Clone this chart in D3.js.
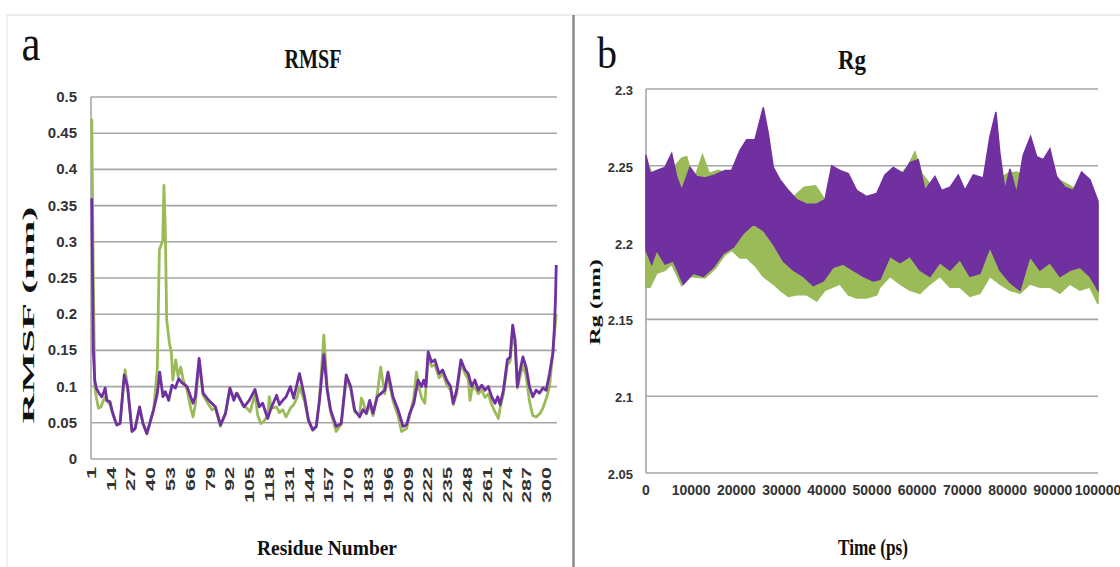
<!DOCTYPE html>
<html>
<head>
<meta charset="utf-8">
<script src="https://cdn.jsdelivr.net/npm/d3@7"></script>
<style>
  html, body { margin: 0; padding: 0; background: #fff; }
  svg { display: block; }
</style>
</head>
<body>
<svg id="chart" width="1120" height="567"></svg>
<script>
// ---- data ----
// RMSF per residue: [residue, nm]
const rmsfGreen = [
  [1,0.47],[2,0.25],[3,0.10],[4,0.085],[5.4,0.07],[7,0.072],[8.5,0.08],[9.8,0.086],[11,0.08],[13,0.075],
  [14.2,0.066],[17.5,0.047],[19.6,0.05],[22.9,0.123],[24.5,0.10],[27.4,0.04],[29.5,0.043],[32.4,0.07],
  [34.6,0.05],[37.2,0.036],[41.6,0.068],[44,0.123],[45.4,0.289],[47.6,0.302],[48.4,0.378],[49.3,0.316],
  [50.2,0.192],[52,0.16],[53.3,0.146],[54.2,0.109],[56.1,0.137],[57.7,0.114],[59.4,0.127],[61,0.11],
  [63.6,0.095],[66,0.07],[67.5,0.058],[69,0.075],[71.5,0.135],[74.1,0.088],[77.8,0.075],[80,0.068],
  [82.2,0.07],[85.5,0.045],[88.8,0.063],[91.7,0.096],[94.3,0.085],[97,0.09],[100,0.075],[103,0.07],
  [105,0.065],[108.2,0.09],[110,0.06],[112,0.049],[114,0.052],[116.5,0.06],[117.6,0.086],[119,0.07],
  [122.4,0.072],[124.2,0.064],[126.4,0.068],[128.6,0.058],[131.4,0.07],[133.6,0.075],[136,0.086],
  [137.4,0.1],[140.7,0.08],[143.3,0.052],[146.1,0.04],[148.4,0.045],[150.5,0.08],[153.4,0.171],
  [155.6,0.1],[157.8,0.065],[161.5,0.038],[164.8,0.048],[168.1,0.112],[171,0.098],[173.6,0.065],
  [176.9,0.06],[178,0.084],[179.1,0.08],[181.3,0.062],[183.5,0.075],[185.7,0.06],[188.5,0.09],
  [190.7,0.127],[193.4,0.09],[195.5,0.115],[198.8,0.08],[202.1,0.06],[204.4,0.038],[207.7,0.042],
  [209.8,0.06],[212.5,0.085],[214.2,0.12],[216,0.098],[217.5,0.085],[219.7,0.077],[221.9,0.14],
  [224.1,0.128],[226.3,0.13],[229.1,0.112],[231.4,0.118],[234,0.103],[236.6,0.095],[238.4,0.075],
  [240.6,0.09],[243.4,0.132],[246.1,0.118],[248.2,0.11],[249.4,0.081],[250.5,0.095],[252.6,0.1],
  [254.8,0.09],[257.1,0.095],[259.2,0.085],[261.4,0.09],[263.6,0.075],[265.8,0.065],[268,0.056],
  [269.1,0.07],[271.3,0.09],[273.9,0.13],[275.7,0.135],[277.4,0.175],[279,0.155],[280.5,0.098],
  [281.8,0.11],[284.1,0.13],[286.2,0.115],[288.4,0.08],[290.6,0.06],[292.8,0.058],[295.4,0.063],
  [297.2,0.07],[299.8,0.086],[301.6,0.1],[303.4,0.14],[304.7,0.17],[306,0.2]
];
const rmsfPurple = [
  [1,0.36],[2,0.15],[3,0.108],[4,0.098],[6,0.09],[7.6,0.086],[9,0.093],[9.8,0.098],[10.9,0.081],
  [13,0.079],[14.2,0.068],[16,0.055],[17.5,0.047],[19.6,0.049],[22.3,0.116],[24.5,0.10],[27.4,0.038],
  [29.5,0.042],[32.4,0.072],[34.6,0.049],[37.2,0.035],[41.6,0.068],[44,0.09],[45.6,0.12],[47.8,0.086],
  [49.3,0.093],[51.5,0.081],[53.7,0.102],[55.9,0.098],[58.1,0.111],[60.3,0.105],[63.6,0.10],
  [67.5,0.077],[69,0.086],[71.5,0.139],[74.1,0.091],[77.8,0.081],[82.2,0.072],[85.5,0.047],
  [88.8,0.063],[91.7,0.098],[94.3,0.081],[96.1,0.091],[99.8,0.077],[101,0.072],[104.4,0.081],
  [108.2,0.096],[111,0.072],[113.2,0.077],[116.5,0.056],[118.7,0.070],[122.4,0.088],[124.2,0.075],
  [126.4,0.081],[128.6,0.086],[131.4,0.10],[133.6,0.084],[137.4,0.118],[140.7,0.086],[143.3,0.054],
  [146.1,0.040],[148.4,0.045],[150.5,0.081],[153.4,0.144],[155.6,0.095],[157.8,0.068],[161.5,0.045],
  [164.8,0.049],[168.1,0.116],[171,0.10],[173.6,0.068],[176.9,0.058],[179.1,0.068],[181.3,0.063],
  [183.5,0.081],[185.7,0.063],[188.5,0.086],[191.2,0.091],[193.4,0.095],[195.5,0.12],[198.8,0.086],
  [202.1,0.068],[205.4,0.045],[207.7,0.047],[209.8,0.063],[212.5,0.077],[215.3,0.109],[217.5,0.10],
  [219,0.109],[220.4,0.10],[221.9,0.148],[224.1,0.134],[226.3,0.137],[229.1,0.118],[231.4,0.123],
  [234,0.109],[236.6,0.10],[238.4,0.077],[240.6,0.095],[243.4,0.137],[246.1,0.123],[248.2,0.118],
  [250.5,0.10],[252.6,0.109],[254.8,0.095],[257.1,0.102],[259.2,0.095],[261.4,0.10],[263.6,0.086],
  [265.8,0.077],[267.6,0.086],[269.1,0.075],[271.3,0.095],[273.9,0.137],[275.7,0.141],[277.4,0.185],
  [279,0.164],[280.5,0.10],[281.8,0.118],[284.1,0.141],[286.2,0.127],[288.4,0.10],[290.6,0.086],
  [292.8,0.095],[295,0.091],[297.2,0.098],[299.4,0.095],[301.6,0.118],[303.8,0.146],[304.7,0.178],
  [305.5,0.22],[306,0.268]
];
const rmsfTicksY = [0,0.05,0.1,0.15,0.2,0.25,0.3,0.35,0.4,0.45,0.5];
const residueTicks = [1,14,27,40,53,66,79,92,105,118,131,144,157,170,183,196,209,222,235,248,261,274,287,300];

// Rg envelopes (the trace is too dense to read point by point): [time ps, nm]
const rgPurpleUpper = [
  [0,2.257],[885,2.245],[2370,2.247],[4200,2.249],[5680,2.258],[6780,2.243],[7890,2.234],[9730,2.249],
  [11210,2.243],[13050,2.242],[15260,2.244],[17480,2.247],[18950,2.247],[20790,2.26],[22270,2.267],
  [24110,2.267],[25950,2.288],[27060,2.271],[28160,2.249],[29640,2.241],[31480,2.234],[33330,2.228],
  [35550,2.225],[37760,2.225],[39600,2.228],[41080,2.25],[42910,2.247],[44750,2.245],[46600,2.234],
  [48820,2.230],[51030,2.232],[52870,2.244],[54710,2.249],[56920,2.245],[58400,2.252],[60240,2.254],
  [61720,2.234],[63930,2.243],[65400,2.234],[67250,2.236],[69090,2.244],[70560,2.234],[72410,2.244],
  [74620,2.242],[76090,2.269],[77420,2.285],[78300,2.258],[79410,2.234],[80520,2.248],[81990,2.232],
  [83470,2.257],[85090,2.269],[86420,2.256],[87890,2.254],[89360,2.261],[90840,2.243],[92680,2.236],
  [94530,2.234],[96370,2.246],[98210,2.241],[100000,2.227]
];
const rgPurpleLower = [
  [0,2.195],[1260,2.186],[2370,2.195],[4200,2.186],[6050,2.188],[8260,2.173],[10470,2.18],[12680,2.178],
  [14890,2.184],[17100,2.193],[19320,2.197],[21530,2.206],[23740,2.212],[25950,2.208],[28160,2.199],
  [30370,2.188],[32580,2.182],[34800,2.178],[37010,2.172],[39220,2.175],[41430,2.184],[43640,2.186],
  [45860,2.182],[48070,2.178],[50280,2.175],[51760,2.176],[53970,2.191],[56190,2.187],[58400,2.191],
  [60610,2.182],[62820,2.178],[65030,2.187],[67250,2.182],[69460,2.189],[71670,2.178],[73880,2.180],
  [76090,2.197],[78300,2.182],[80520,2.174],[82730,2.169],[84940,2.191],[87150,2.182],[89360,2.187],
  [91580,2.178],[93790,2.182],[96000,2.184],[98210,2.178],[100000,2.169]
];
const rgGreenUpper = [
  [0,2.255],[2000,2.24],[5000,2.245],[7890,2.255],[9000,2.256],[10500,2.24],[12500,2.257],[14000,2.245],
  [16000,2.247],[18000,2.245],[20000,2.24],[23000,2.24],[26000,2.24],[29000,2.235],[32000,2.228],
  [35000,2.236],[37500,2.237],[40000,2.226],[43000,2.24],[46000,2.23],[50000,2.225],[55000,2.24],
  [58000,2.25],[59500,2.259],[61000,2.245],[65000,2.23],[70000,2.23],[75000,2.235],[80000,2.245],
  [82000,2.246],[86000,2.24],[90000,2.24],[92000,2.24],[95000,2.235],[100000,2.225]
];
const rgGreenLower = [
  [0,2.171],[885,2.171],[2370,2.180],[4200,2.182],[5680,2.186],[7890,2.172],[9730,2.178],[13050,2.177],
  [15260,2.183],[17480,2.192],[18950,2.195],[20790,2.19],[22270,2.19],[24110,2.185],[25950,2.178],
  [28160,2.173],[29640,2.169],[31480,2.165],[33330,2.166],[35550,2.166],[37760,2.162],[39600,2.169],
  [42910,2.173],[44750,2.166],[46600,2.164],[48820,2.164],[51030,2.166],[51760,2.171],[53970,2.178],
  [56190,2.173],[58400,2.169],[60610,2.167],[62820,2.173],[65030,2.178],[67250,2.171],[69460,2.171],
  [71670,2.165],[73880,2.167],[76090,2.178],[78300,2.173],[80520,2.169],[82730,2.167],[84940,2.173],
  [87150,2.171],[89360,2.171],[91580,2.167],[93790,2.173],[96000,2.169],[98210,2.171],[100000,2.160]
];
const rgTicksY = [2.05,2.1,2.15,2.2,2.25,2.3];
const timeTicks = [0,10000,20000,30000,40000,50000,60000,70000,80000,90000,100000];

const GREEN = '#9bbb59', PURPLE = '#7030a0', GRID = '#a6a6a6';
const TICK_FONT = '"Liberation Sans", Arial, sans-serif';
const SERIF = '"Liberation Serif", "Times New Roman", serif';

const svg = d3.select('#chart');
svg.append('rect').attr('width', 1120).attr('height', 567).attr('fill', '#fff');

// frame lines
svg.append('line').attr('x1', 7).attr('x2', 1120).attr('y1', 15).attr('y2', 15)
  .attr('stroke', '#dcdcdc').attr('stroke-width', 1);
svg.append('line').attr('x1', 7).attr('x2', 7).attr('y1', 15).attr('y2', 567)
  .attr('stroke', '#e4e4e4').attr('stroke-width', 1);
svg.append('line').attr('x1', 573.5).attr('x2', 573.5).attr('y1', 15).attr('y2', 567)
  .attr('stroke', '#8a8a8a').attr('stroke-width', 2.5);

function label(txt, x, y, size, len, opts = {}) {
  const t = svg.append('text')
    .attr('x', x).attr('y', y)
    .attr('font-family', opts.family || SERIF)
    .attr('font-size', size)
    .attr('font-weight', opts.weight || 'bold')
    .attr('fill', opts.fill || '#111')
    .attr('text-anchor', opts.anchor || 'middle')
    .text(txt);
  if (len) t.attr('textLength', len).attr('lengthAdjust', 'spacingAndGlyphs');
  if (opts.rotate) t.attr('transform', `rotate(-90,${x},${y})`);
  return t;
}

// ---------------- panel a : RMSF ----------------
const xA = d3.scaleLinear().domain([0.5, 306.5]).range([91, 557]);
const yA = d3.scaleLinear().domain([0, 0.5]).range([459, 97]);
const gA = svg.append('g');

gA.append('g').selectAll('line').data(rmsfTicksY).join('line')
  .attr('x1', xA.range()[0]).attr('x2', xA.range()[1])
  .attr('y1', d => yA(d)).attr('y2', d => yA(d))
  .attr('stroke', GRID).attr('stroke-width', 1.6);
gA.append('line').attr('x1', 91).attr('x2', 91).attr('y1', yA(0.5)).attr('y2', yA(0))
  .attr('stroke', GRID).attr('stroke-width', 1.6);

gA.append('g').selectAll('text').data(rmsfTicksY).join('text')
  .attr('x', 77).attr('y', d => yA(d) + 5)
  .attr('text-anchor', 'end')
  .attr('font-family', TICK_FONT).attr('font-size', 15).attr('font-weight', 'bold')
  .attr('fill', '#333')
  .text(d => String(+d.toFixed(2)));

gA.append('g').selectAll('text').data(residueTicks).join('text')
  .attr('text-anchor', 'end')
  .attr('font-family', TICK_FONT).attr('font-size', 12).attr('font-weight', 'bold')
  .attr('fill', '#333')
  .attr('transform', d => `translate(${xA(d) + 4},467) rotate(-90) scale(1.8,1)`)
  .text(d => d);

const lineA = d3.line().x(d => xA(d[0])).y(d => yA(d[1]));
gA.append('path').attr('d', lineA(rmsfGreen)).attr('fill', 'none')
  .attr('stroke', GREEN).attr('stroke-width', 2.8).attr('stroke-linejoin', 'round');
gA.append('path').attr('d', lineA(rmsfPurple)).attr('fill', 'none')
  .attr('stroke', PURPLE).attr('stroke-width', 2.8).attr('stroke-linejoin', 'round');

label('a', 31, 60, 50, 19, { weight: 'normal' });
label('RMSF', 313, 68, 28, 57);
label('RMSF (nm)', 34, 315, 17, 217, { rotate: true });
label('Residue Number', 327, 555, 22, 140);

// ---------------- panel b : Rg ----------------
const xB = d3.scaleLinear().domain([0, 100000]).range([646, 1098]);
const yB = d3.scaleLinear().domain([2.05, 2.3]).range([473, 89]);
const gB = svg.append('g');

gB.append('g').selectAll('line').data(rgTicksY).join('line')
  .attr('x1', xB.range()[0]).attr('x2', xB.range()[1])
  .attr('y1', d => yB(d)).attr('y2', d => yB(d))
  .attr('stroke', GRID).attr('stroke-width', 1.6);
gB.append('line').attr('x1', 646).attr('x2', 646).attr('y1', yB(2.3)).attr('y2', yB(2.05))
  .attr('stroke', GRID).attr('stroke-width', 1.6);

gB.append('g').selectAll('text').data(rgTicksY).join('text')
  .attr('x', 633).attr('y', d => yB(d) + 6)
  .attr('text-anchor', 'end')
  .attr('font-family', TICK_FONT).attr('font-size', 13).attr('font-weight', 'bold')
  .attr('fill', '#333')
  .text(d => String(+d.toFixed(2)));

gB.append('g').selectAll('text').data(timeTicks).join('text')
  .attr('x', d => xB(d)).attr('y', 495)
  .attr('text-anchor', 'middle')
  .attr('font-family', TICK_FONT).attr('font-size', 14).attr('font-weight', 'bold')
  .attr('fill', '#333')
  .text(d => d);

const lineB = d3.line().x(d => xB(d[0])).y(d => yB(d[1]));
const band = (up, lo) => lineB(up.concat(lo.slice().reverse())) + 'Z';
gB.append('path').attr('d', band(rgGreenUpper, rgGreenLower))
  .attr('fill', GREEN).attr('stroke', GREEN).attr('stroke-width', 1.5);
gB.append('path').attr('d', band(rgPurpleUpper, rgPurpleLower))
  .attr('fill', PURPLE).attr('stroke', PURPLE).attr('stroke-width', 1.5);

label('b', 607, 68, 44, 20, { weight: 'normal' });
label('Rg', 852, 69, 28, 28);
label('Rg (nm)', 600, 302, 15, 86, { rotate: true });
label('Time (ps)', 873, 555, 23, 70);
</script>
</body>
</html>
